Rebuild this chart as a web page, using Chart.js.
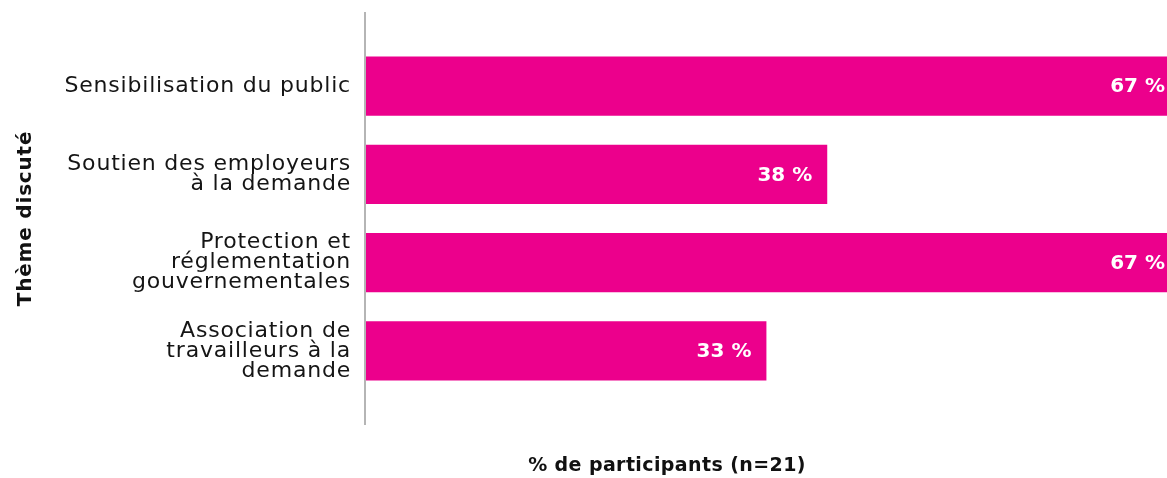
<!DOCTYPE html>
<html lang="fr">
<head>
    <meta charset="UTF-8">
    <title>Thème discuté</title>
    <script src="https://cdn.jsdelivr.net/npm/chart.js"></script>
    <style>
        html, body { margin: 0; padding: 0; background: #fff; overflow: hidden; }
        .wrap { position: relative; width: 1180px; height: 478px; }
    </style>
</head>
<body>
    <div class="wrap"><canvas id="themes"></canvas></div>

    <script>
        const themes = [
            'Sensibilisation du public',
            ['Soutien des employeurs', 'à la demande'],
            ['Protection et', 'réglementation', 'gouvernementales'],
            ['Association de', 'travailleurs à la', 'demande']
        ];
        const pctParticipants = [67, 38, 67, 33];
        const xTitle = '% de participants (n=21)';
        const yTitle = 'Thème discuté';

        const MAGENTA = '#ec008c';
        const FONT = '"DejaVu Sans", sans-serif';
        const TRACKING = '0.8px';

        // loose tracking for the axis texts (state is lost on resize, so reapply)
        const tracking = {
            id: 'tracking',
            beforeUpdate(chart) { chart.ctx.letterSpacing = TRACKING; },
            beforeDraw(chart) { chart.ctx.letterSpacing = TRACKING; }
        };

        // vertical baseline a bit taller than the bars, value labels inside bar ends, bottom title
        const decorations = {
            id: 'decorations',
            afterDatasetsDraw(chart) {
                const { ctx, chartArea } = chart;
                ctx.save();
                ctx.strokeStyle = '#b5b5b5';
                ctx.lineWidth = 2;
                ctx.beginPath();
                ctx.moveTo(chartArea.left, chartArea.top - 30);
                ctx.lineTo(chartArea.left, chartArea.bottom + 30);
                ctx.stroke();

                ctx.fillStyle = '#fff';
                ctx.letterSpacing = '0px';
                ctx.font = 'bold 20px ' + FONT;
                ctx.textAlign = 'right';
                ctx.textBaseline = 'middle';
                chart.getDatasetMeta(0).data.forEach((bar, i) => {
                    ctx.fillText(pctParticipants[i] + ' %', bar.x - 15, bar.y + 1);
                });

                ctx.fillStyle = '#111';
                ctx.letterSpacing = '0.4px';
                ctx.font = 'bold 19px ' + FONT;
                ctx.textAlign = 'center';
                ctx.fillText(xTitle, 667, 466);
                ctx.restore();
            }
        };

        new Chart(document.getElementById('themes'), {
            type: 'bar',
            data: {
                labels: themes,
                datasets: [{
                    data: pctParticipants,
                    backgroundColor: MAGENTA,
                    borderWidth: 0,
                    categoryPercentage: 1,
                    barPercentage: 0.67
                }]
            },
            options: {
                indexAxis: 'y',
                responsive: true,
                maintainAspectRatio: false,
                animation: false,
                layout: { padding: { top: 42, bottom: 83, left: 0, right: 0 } },
                plugins: {
                    legend: { display: false },
                    tooltip: { enabled: false }
                },
                scales: {
                    x: {
                        display: false,
                        min: 0,
                        max: 67
                    },
                    y: {
                        afterFit(scale) { scale.width = 365; },
                        border: { display: false },
                        grid: { display: false },
                        ticks: {
                            color: '#151515',
                            padding: 6,
                            font: { family: FONT, size: 22, lineHeight: 0.91 }
                        },
                        title: {
                            display: true,
                            text: yTitle,
                            color: '#111',
                            padding: { top: 14, bottom: 4 },
                            font: { family: FONT, size: 20, weight: 'bold' }
                        }
                    }
                }
            },
            plugins: [tracking, decorations]
        });
    </script>
</body>
</html>
